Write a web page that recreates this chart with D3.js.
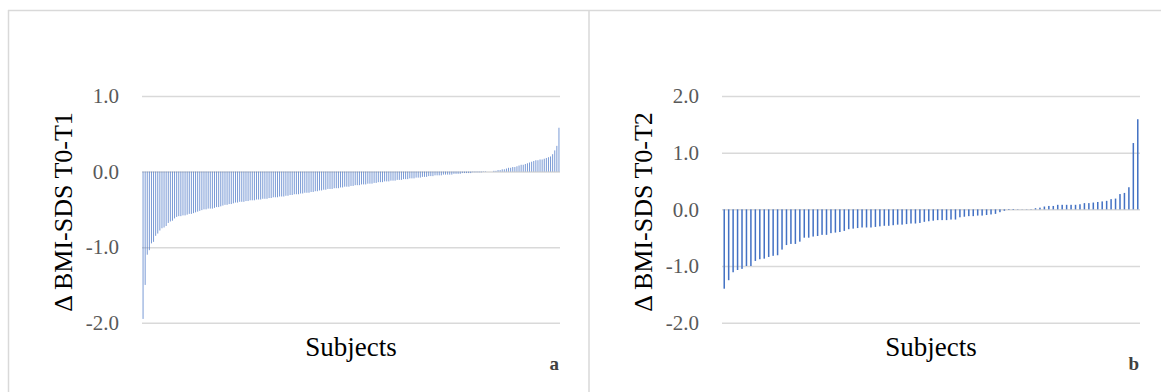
<!DOCTYPE html>
<html>
<head>
<meta charset="utf-8">
<script src="https://cdn.jsdelivr.net/npm/d3@7"></script>
<style>
  body { margin: 0; background: #fff; }
  svg text { font-family: "Liberation Serif", "DejaVu Serif", serif; }
</style>
</head>
<body>
<svg id="chart" width="1161" height="392"></svg>
<script>
// panel a: change T0-T1, sorted ascending (one value per subject)
const deltaT1 = [
  -1.95, -1.50, -1.10, -1.04, -0.95, -0.93, -0.85, -0.82, -0.78, -0.75,
  -0.74, -0.72, -0.68, -0.66, -0.65, -0.62, -0.60, -0.59, -0.59, -0.58,
  -0.58, -0.57, -0.56, -0.56, -0.55, -0.54, -0.53, -0.52, -0.51, -0.50,
  -0.50, -0.49, -0.49, -0.49, -0.48, -0.47, -0.47, -0.46, -0.45, -0.44,
  -0.44, -0.43, -0.43, -0.42, -0.41, -0.41, -0.40, -0.40, -0.40, -0.39,
  -0.39, -0.38, -0.38, -0.38, -0.37, -0.37, -0.37, -0.36, -0.36, -0.36,
  -0.35, -0.35, -0.34, -0.34, -0.34, -0.33, -0.33, -0.33, -0.32, -0.32,
  -0.31, -0.31, -0.30, -0.30, -0.30, -0.29, -0.29, -0.28, -0.28, -0.28,
  -0.27, -0.27, -0.26, -0.26, -0.25, -0.25, -0.24, -0.24, -0.23, -0.23,
  -0.23, -0.22, -0.22, -0.22, -0.21, -0.21, -0.20, -0.20, -0.20, -0.19,
  -0.19, -0.18, -0.18, -0.18, -0.17, -0.17, -0.17, -0.16, -0.16, -0.16,
  -0.15, -0.15, -0.14, -0.14, -0.14, -0.13, -0.13, -0.13, -0.12, -0.12,
  -0.12, -0.11, -0.11, -0.11, -0.10, -0.10, -0.10, -0.09, -0.09, -0.09,
  -0.08, -0.08, -0.08, -0.07, -0.07, -0.07, -0.06, -0.06, -0.06, -0.05,
  -0.05, -0.05, -0.05, -0.04, -0.04, -0.04, -0.04, -0.04, -0.03, -0.03,
  -0.03, -0.03, -0.02, -0.02, -0.02, -0.02, -0.02, -0.01, -0.01, -0.01,
  -0.01, -0.01, -0.005, -0.005, 0.0, 0.0, 0.0, 0.01, 0.01, 0.02,
  0.02, 0.03, 0.03, 0.04, 0.05, 0.05, 0.06, 0.06, 0.07, 0.08,
  0.09, 0.09, 0.10, 0.11, 0.12, 0.13, 0.14, 0.15, 0.15, 0.16,
  0.16, 0.17, 0.18, 0.19, 0.20, 0.23, 0.28, 0.34, 0.58
];

// panel b: change T0-T2
const deltaT2 = [
  -1.40, -1.25, -1.11, -1.07, -1.05, -1.00, -1.00, -0.91, -0.88, -0.87,
  -0.84, -0.82, -0.81, -0.71, -0.63, -0.61, -0.61, -0.57, -0.50, -0.50,
  -0.48, -0.47, -0.45, -0.45, -0.42, -0.41, -0.40, -0.38, -0.35, -0.34,
  -0.33, -0.32, -0.32, -0.32, -0.31, -0.30, -0.29, -0.29, -0.28, -0.27,
  -0.27, -0.26, -0.25, -0.25, -0.24, -0.22, -0.21, -0.20, -0.19, -0.19,
  -0.19, -0.18, -0.18, -0.14, -0.13, -0.12, -0.12, -0.11, -0.11, -0.10,
  -0.09, -0.08, -0.05, -0.025, -0.01, -0.01, -0.005, 0.003, 0.004, 0.005,
  0.02, 0.03, 0.05, 0.06, 0.06, 0.08, 0.08, 0.08, 0.08, 0.08,
  0.09, 0.11, 0.11, 0.12, 0.13, 0.14, 0.15, 0.18, 0.19, 0.27,
  0.29, 0.39, 1.17, 1.59
];

const ticksT1 = [-2, -1, 0, 1];
const ticksT2 = [-2, -1, 0, 1, 2];
const yTitles = ['\u0394 BMI-SDS T0-T1', '\u0394 BMI-SDS T0-T2'];
const xTitle = 'Subjects';
const panelTags = ['a', 'b'];

const svg = d3.select('#chart');
const gridColor = '#d9d9d9';
const barColor = '#4472c4';
const serif = '"Liberation Serif", "DejaVu Serif", serif';

// frame around the figure
svg.append('line').attr('x1', 8).attr('x2', 1161).attr('y1', 10.5).attr('y2', 10.5)
  .attr('stroke', gridColor).attr('stroke-width', 1.5);
svg.append('line').attr('x1', 8.5).attr('x2', 8.5).attr('y1', 10).attr('y2', 392)
  .attr('stroke', gridColor).attr('stroke-width', 1.5);
svg.append('line').attr('x1', 589).attr('x2', 589).attr('y1', 10).attr('y2', 392)
  .attr('stroke', gridColor).attr('stroke-width', 1.5);

function drawPanel(offset, values, ticks, yTitle, tag, barPad, barOpacity) {
  const g = svg.append('g').attr('transform', 'translate(' + offset + ',0)');
  const left = 142, right = 560, top = 96, bottom = 322.7;

  const x = d3.scaleBand()
    .domain(d3.range(values.length))
    .range([left, right])
    .paddingInner(barPad)
    .paddingOuter(barPad / 2);

  const y = d3.scaleLinear()
    .domain([d3.min(ticks), d3.max(ticks)])
    .range([bottom, top]);

  const axis = d3.axisLeft(y)
    .tickValues(ticks)
    .tickSize(-(right - left))
    .tickPadding(23)
    .tickFormat(d => d.toFixed(1));

  const ax = g.append('g')
    .attr('transform', 'translate(' + left + ',0)')
    .call(axis)
    .attr('font-family', serif);
  ax.select('.domain').remove();
  ax.selectAll('.tick line').attr('stroke', gridColor).attr('stroke-width', 1.5);
  ax.selectAll('.tick text')
    .attr('fill', '#595959')
    .style('font-size', '21px')
    .style('font-family', serif);

  g.selectAll('rect.bar')
    .data(values)
    .enter()
    .append('rect')
    .attr('class', 'bar')
    .attr('x', (d, i) => x(i))
    .attr('width', x.bandwidth())
    .attr('y', d => Math.min(y(d), y(0)))
    .attr('height', d => Math.abs(y(d) - y(0)))
    .attr('fill', barColor)
    .attr('fill-opacity', barOpacity);

  g.append('text')
    .attr('transform', 'translate(72,212) rotate(-90)')
    .attr('text-anchor', 'middle')
    .attr('fill', '#000')
    .style('font-size', '26px')
    .style('font-family', serif)
    .text(yTitle);

  g.append('text')
    .attr('x', (left + right) / 2)
    .attr('y', 356)
    .attr('text-anchor', 'middle')
    .attr('fill', '#000')
    .style('font-size', '27px')
    .style('font-family', serif)
    .text(xTitle);

  g.append('text')
    .attr('x', 559)
    .attr('y', 370)
    .attr('text-anchor', 'end')
    .attr('fill', '#404040')
    .style('font-size', '19px')
    .style('font-weight', 'bold')
    .style('font-family', serif)
    .text(tag);
}

drawPanel(0, deltaT1, ticksT1, yTitles[0], panelTags[0], 0.55, 0.75);
drawPanel(580, deltaT2, ticksT2, yTitles[1], panelTags[1], 0.66, 1);
</script>
</body>
</html>
